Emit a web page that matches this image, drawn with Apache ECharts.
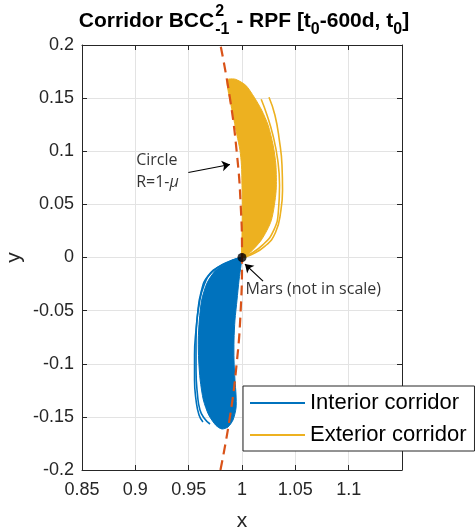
<!DOCTYPE html>
<html>
<head>
<meta charset="utf-8">
<script src="https://cdn.jsdelivr.net/npm/echarts@6/dist/echarts.min.js"></script>
<style>html,body{margin:0;padding:0;background:#fff}#c{width:476px;height:531px}</style>
</head>
<body>
<div id="c"></div>
<script>
// ---- data ----
const seriesNames = ['Interior corridor', 'Exterior corridor'];

// exterior corridor (yellow lobe) outline
const exteriorBoundary = [
  [0.9859, 0.1668], [0.9869, 0.1574], [0.9897, 0.1433], [0.9925, 0.1292], [0.9953, 0.1151],
  [0.9981, 0.1010], [0.9995, 0.0869], [1.0000, 0.0680], [1.0003, 0.0445], [1.0000, 0.0210],
  [1.0000, 0.0000], [1.0050, 0.0022], [1.0180, 0.0163], [1.0275, 0.0350], [1.0320, 0.0630],
  [1.0318, 0.0869], [1.0292, 0.1057], [1.0245, 0.1245], [1.0185, 0.1386], [1.0115, 0.1508],
  [1.0035, 0.1621], [0.9940, 0.1677], [0.9880, 0.1680]
];
// exterior outlying trajectories
const exteriorTraceA = [
  [1.0180, 0.1489], [1.0235, 0.1339], [1.0290, 0.1151], [1.0335, 0.0916], [1.0352, 0.0680],
  [1.0342, 0.0445], [1.0298, 0.0257], [1.0192, 0.0116], [1.0058, 0.0022], [1.0000, 0.0000]
];
const exteriorTraceB = [
  [1.0253, 0.1508], [1.0309, 0.1339], [1.0350, 0.1104], [1.0375, 0.0869], [1.0380, 0.0633],
  [1.0365, 0.0445], [1.0315, 0.0238], [1.0216, 0.0107], [1.0075, 0.0022], [1.0000, 0.0000]
];

// interior corridor (blue lobe) outline
const interiorBoundary = [
  [1.0000, 0.0000], [0.9934, -0.0015], [0.9841, -0.0062], [0.9747, -0.0128], [0.9672, -0.0241],
  [0.9622, -0.0401], [0.9600, -0.0589], [0.9590, -0.0777], [0.9594, -0.0965], [0.9608, -0.1153],
  [0.9638, -0.1341], [0.9688, -0.1482], [0.9756, -0.1580], [0.9812, -0.1614], [0.9869, -0.1595],
  [0.9916, -0.1529], [0.9944, -0.1417], [0.9944, -0.1294], [0.9934, -0.1153], [0.9925, -0.0965],
  [0.9925, -0.0777], [0.9934, -0.0589], [0.9953, -0.0401], [0.9972, -0.0213], [0.9991, -0.0072]
];
// interior outlying trajectories
const interiorTraceC = [
  [1.0000, 0.0000], [0.9841, -0.0053], [0.9719, -0.0137], [0.9644, -0.0260], [0.9597, -0.0448],
  [0.9569, -0.0683], [0.9555, -0.0918], [0.9555, -0.1153], [0.9569, -0.1341], [0.9597, -0.1482],
  [0.9634, -0.1548]
];
const interiorTraceD = [
  [1.0000, 0.0000], [0.9812, -0.0072], [0.9681, -0.0175], [0.9616, -0.0326], [0.9583, -0.0542],
  [0.9569, -0.0777], [0.9569, -0.1059], [0.9583, -0.1294], [0.9606, -0.1435], [0.9644, -0.1510],
  [0.9700, -0.1567]
];

// circle R = 1 - mu (points on the dashed curve)
const circleX = [0.97980, 0.98869, 0.99499, 0.99875, 1.00000, 0.99875, 0.99499, 0.98869, 0.97980];
const circleY = [-0.20, -0.15, -0.10, -0.05, 0.00, 0.05, 0.10, 0.15, 0.20];

// Mars
const marsPoint = [1.0, 0.0];

// annotations (data coordinates)
const circleLabelPos = [0.9003, 0.0812];
const circleArrow = [[0.9497, 0.0800], [0.9887, 0.0875]];
const marsLabelPos = [1.0028, -0.0298];
const marsArrow = [[1.0197, -0.0222], [1.0028, -0.0062]];

// title pieces: [text, kind]  kind: 'n' normal, 'sub', 'stack' (sup over sub)
const titleParts = [
  ['Corridor BCC', 'n'], [['2', '-1'], 'stack'], [' - RPF [t', 'n'], ['0', 'sub'],
  ['-600d, t', 'n'], ['0', 'sub'], [']', 'n']
];

// ---- chart ----
const BLUE = '#0072BD', YELLOW = '#EDB120', RED = '#D95319';
const AX = '#262626';
const chart = echarts.init(document.getElementById('c'), null, {renderer: 'canvas'});

// build title as graphic texts
const FONT_MAIN = 'bold 21px "Liberation Sans"';
const FONT_SMALL = 'bold 16px "Liberation Sans"';
const ctx = document.createElement('canvas').getContext('2d');
function tw(t, f) { ctx.font = f; return ctx.measureText(t).width; }
const titleY = 21, supY = 12, subY = 30;
const pieces = [];
let cx = 0;
titleParts.forEach(function (p) {
  if (p[1] === 'n') {
    pieces.push({x: cx, y: titleY, t: p[0], f: FONT_MAIN}); cx += tw(p[0], FONT_MAIN);
  } else if (p[1] === 'sub') {
    pieces.push({x: cx, y: subY, t: p[0], f: FONT_SMALL}); cx += tw(p[0], FONT_SMALL);
  } else {
    pieces.push({x: cx + 1, y: supY, t: p[0][0], f: FONT_SMALL});
    pieces.push({x: cx + 1, y: subY, t: p[0][1], f: FONT_SMALL});
    cx += Math.max(tw(p[0][0], FONT_SMALL), tw(p[0][1], FONT_SMALL)) + 2;
  }
});
const titleX0 = 244 - cx / 2;
const titleGraphic = pieces.map(function (p) {
  return {type: 'text', x: titleX0 + p.x, y: p.y, silent: true,
    style: {text: p.t, font: p.f, fill: '#000', align: 'left', verticalAlign: 'middle'}};
});

function polygonSeries(name, pts, color) {
  return {
    type: 'custom', name: name, coordinateSystem: 'cartesian2d',
    itemStyle: {color: color}, silent: true, z: 2, clip: true,
    encode: {x: 0, y: 1},
    data: pts,
    renderItem: function (params, api) {
      if (params.dataIndex !== 0) return null;
      const p = pts.map(function (d) { return api.coord(d); });
      return {type: 'polygon', shape: {points: p, smooth: 0.25}, style: {fill: color, stroke: color, lineWidth: 1}};
    }
  };
}
function traceSeries(name, pts, color) {
  return {
    type: 'line', name: name, data: pts, showSymbol: false, symbol: 'none', smooth: true,
    lineStyle: {color: color, width: 1.6}, itemStyle: {color: color}, z: 2, silent: true
  };
}

const axisCommon = {
  type: 'value',
  axisLine: {show: true, onZero: false, lineStyle: {color: AX, width: 1}},
  axisTick: {show: true, inside: true, length: 5, lineStyle: {color: AX, width: 1}}
};

chart.setOption({
  animation: false,
  backgroundColor: '#fff',
  graphic: titleGraphic,
  grid: {left: 82, top: 45, right: 74, bottom: 61, containLabel: false, outerBoundsMode: 'none'},
  legend: {
    orient: 'vertical', left: 243, top: 386,
    backgroundColor: '#fff', borderColor: AX, borderWidth: 1,
    padding: [4, 8, 3, 7], itemGap: 6, itemWidth: 55, itemHeight: 2,
    icon: 'rect',
    textStyle: {fontFamily: 'Liberation Sans', fontSize: 22, color: '#000', lineHeight: 26},
    data: seriesNames
  },
  xAxis: [
    Object.assign({}, axisCommon, {
      min: 0.85, max: 1.15, interval: 0.05, position: 'bottom',
      name: 'x', nameLocation: 'middle', nameGap: 41, nameMoveOverlap: false,
      nameTextStyle: {fontFamily: 'Liberation Sans', fontSize: 21, color: AX},
      axisLabel: {
        margin: 11, fontFamily: 'Liberation Sans', fontSize: 18, color: AX,
        formatter: function (v) { return v > 1.12 ? '' : String(+v.toFixed(2)); }
      },
      splitLine: {show: true, lineStyle: {color: '#e3e3e3', width: 1}}
    }),
    Object.assign({}, axisCommon, {
      min: 0.85, max: 1.15, interval: 0.05, position: 'top',
      axisLabel: {show: false}, splitLine: {show: false}
    })
  ],
  yAxis: [
    Object.assign({}, axisCommon, {
      min: -0.2, max: 0.2, interval: 0.05, position: 'left',
      name: 'y', nameLocation: 'middle', nameGap: 57, nameMoveOverlap: false,
      nameTextStyle: {fontFamily: 'Liberation Sans', fontSize: 21, color: AX},
      axisLabel: {
        margin: 8, fontFamily: 'Liberation Sans', fontSize: 18, color: AX,
        formatter: function (v) { return String(+v.toFixed(2)); }
      },
      splitLine: {show: true, lineStyle: {color: '#e3e3e3', width: 1}}
    }),
    Object.assign({}, axisCommon, {
      min: -0.2, max: 0.2, interval: 0.05, position: 'right',
      axisLabel: {show: false}, splitLine: {show: false}
    })
  ],
  series: [
    polygonSeries(seriesNames[1], exteriorBoundary, YELLOW),
    traceSeries(seriesNames[1], exteriorTraceA, YELLOW),
    traceSeries(seriesNames[1], exteriorTraceB, YELLOW),
    polygonSeries(seriesNames[0], interiorBoundary, BLUE),
    traceSeries(seriesNames[0], interiorTraceC, BLUE),
    traceSeries(seriesNames[0], interiorTraceD, BLUE),
    {
      type: 'line', name: 'circle', data: circleX.map(function (x, i) { return [x, circleY[i]]; }),
      smooth: true, showSymbol: false, symbol: 'none', z: 4, silent: true,
      lineStyle: {color: RED, width: 2.2, type: [10, 6]}
    },
    {
      type: 'scatter', name: 'Mars', data: [marsPoint], symbolSize: 9, z: 5, silent: true,
      itemStyle: {color: '#000'}
    },
    {
      type: 'scatter', name: 'annot', z: 6, silent: true, symbolSize: 1,
      itemStyle: {color: 'rgba(0,0,0,0)'},
      label: {show: true},
      data: [
        {value: circleLabelPos, label: {show: true, position: 'right', distance: 0,
          formatter: 'Circle\nR=1-{i|\u03bc}', align: 'left',
          fontFamily: 'Open Sans', fontSize: 16, color: '#000', lineHeight: 22,
          rich: {i: {fontFamily: 'Open Sans', fontSize: 16, fontStyle: 'italic', color: '#000'}}}},
        {value: marsLabelPos, label: {show: true, position: 'right', distance: 0,
          formatter: 'Mars (not in scale)', fontFamily: 'Open Sans', fontSize: 16, color: '#000'}}
      ],
      markLine: {
        silent: true, symbol: ['none', 'arrow'], symbolSize: 8, animation: false,
        label: {show: false},
        lineStyle: {color: '#000', width: 1.2, type: 'solid'},
        data: [
          [{coord: circleArrow[0]}, {coord: circleArrow[1]}],
          [{coord: marsArrow[0]}, {coord: marsArrow[1]}]
        ]
      }
    }
  ]
});
</script>
</body>
</html>
